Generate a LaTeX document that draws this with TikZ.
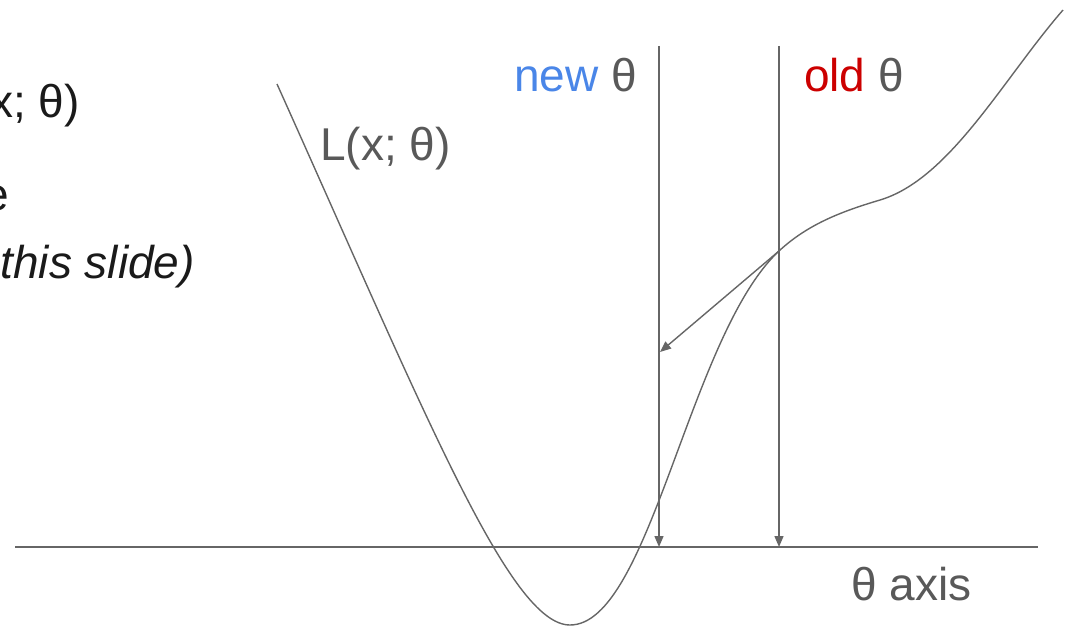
\documentclass[tikz,border=0pt]{standalone}
\usepackage{fontspec}
\setmainfont{Liberation Sans}
\usetikzlibrary{arrows.meta}
\definecolor{linegray}{HTML}{666666}
\definecolor{txtgray}{HTML}{595959}
\definecolor{newblue}{HTML}{4A86E8}
\definecolor{oldred}{HTML}{CC0000}
\definecolor{leftblack}{HTML}{1A1A1A}
\begin{document}
\begin{tikzpicture}[x=1pt,y=-1pt,
  lbl/.style={inner sep=0pt,font=\fontsize{46}{55}\selectfont,text=txtgray},
  leftlbl/.style={inner sep=0pt,font=\fontsize{46}{55}\selectfont,text=leftblack,anchor=base east},
  curveline/.style={draw=linegray,line width=1.4pt},
  thetaline/.style={draw=linegray,line width=1.4pt,-{Triangle[length=11pt,width=9pt]}}]
\useasboundingbox (0,0) rectangle (1068,626);
\clip (0,0) rectangle (1068,626);
% coordinates
\coordinate (axl) at (15,547);
\coordinate (axr) at (1038,547);
\coordinate (newtop) at (659,46);
\coordinate (newbot) at (659,547);
\coordinate (oldtop) at (779,46);
\coordinate (oldbot) at (779,547);
\coordinate (oldpt) at (779,251);
\coordinate (newpt) at (660,352);
\coordinate (cstart) at (277,84);
\coordinate (cmin) at (570,625);
\coordinate (cflat) at (880,200);
\coordinate (cend) at (1063,10);
% left cut-off text
\node[leftlbl] (t1) at (80,117) {x; θ)};
\node[leftlbl] (t2) at (9,210) {e};
\node[leftlbl,font=\fontsize{46}{55}\selectfont\itshape] (t3) at (195,278) {this slide)};
% axis
\draw[curveline] (axl) -- (axr);
% loss curve
\draw[curveline] (cstart) .. controls (427,418) and (510,625) .. (cmin)
  .. controls (650,625) and (689,335) .. (oldpt)
  .. controls (809,223) and (845,210.5) .. (cflat)
  .. controls (950,179) and (1003,79) .. (cend);
% theta lines
\draw[thetaline] (newtop) -- (newbot);
\draw[thetaline] (oldtop) -- (oldbot);
% update arrow
\draw[thetaline] (oldpt) -- (newpt);
% labels
\node[lbl,anchor=base west] (newlbl) at (514,92) {\textcolor{newblue}{new} θ};
\node[lbl,anchor=base west] (oldlbl) at (804,92) {\textcolor{oldred}{old} θ};
\node[lbl,anchor=base west] (Llbl) at (320,160) {L(x; θ)};
\node[lbl,anchor=base west] (axlbl) at (851,600) {θ axis};
\end{tikzpicture}
\end{document}
